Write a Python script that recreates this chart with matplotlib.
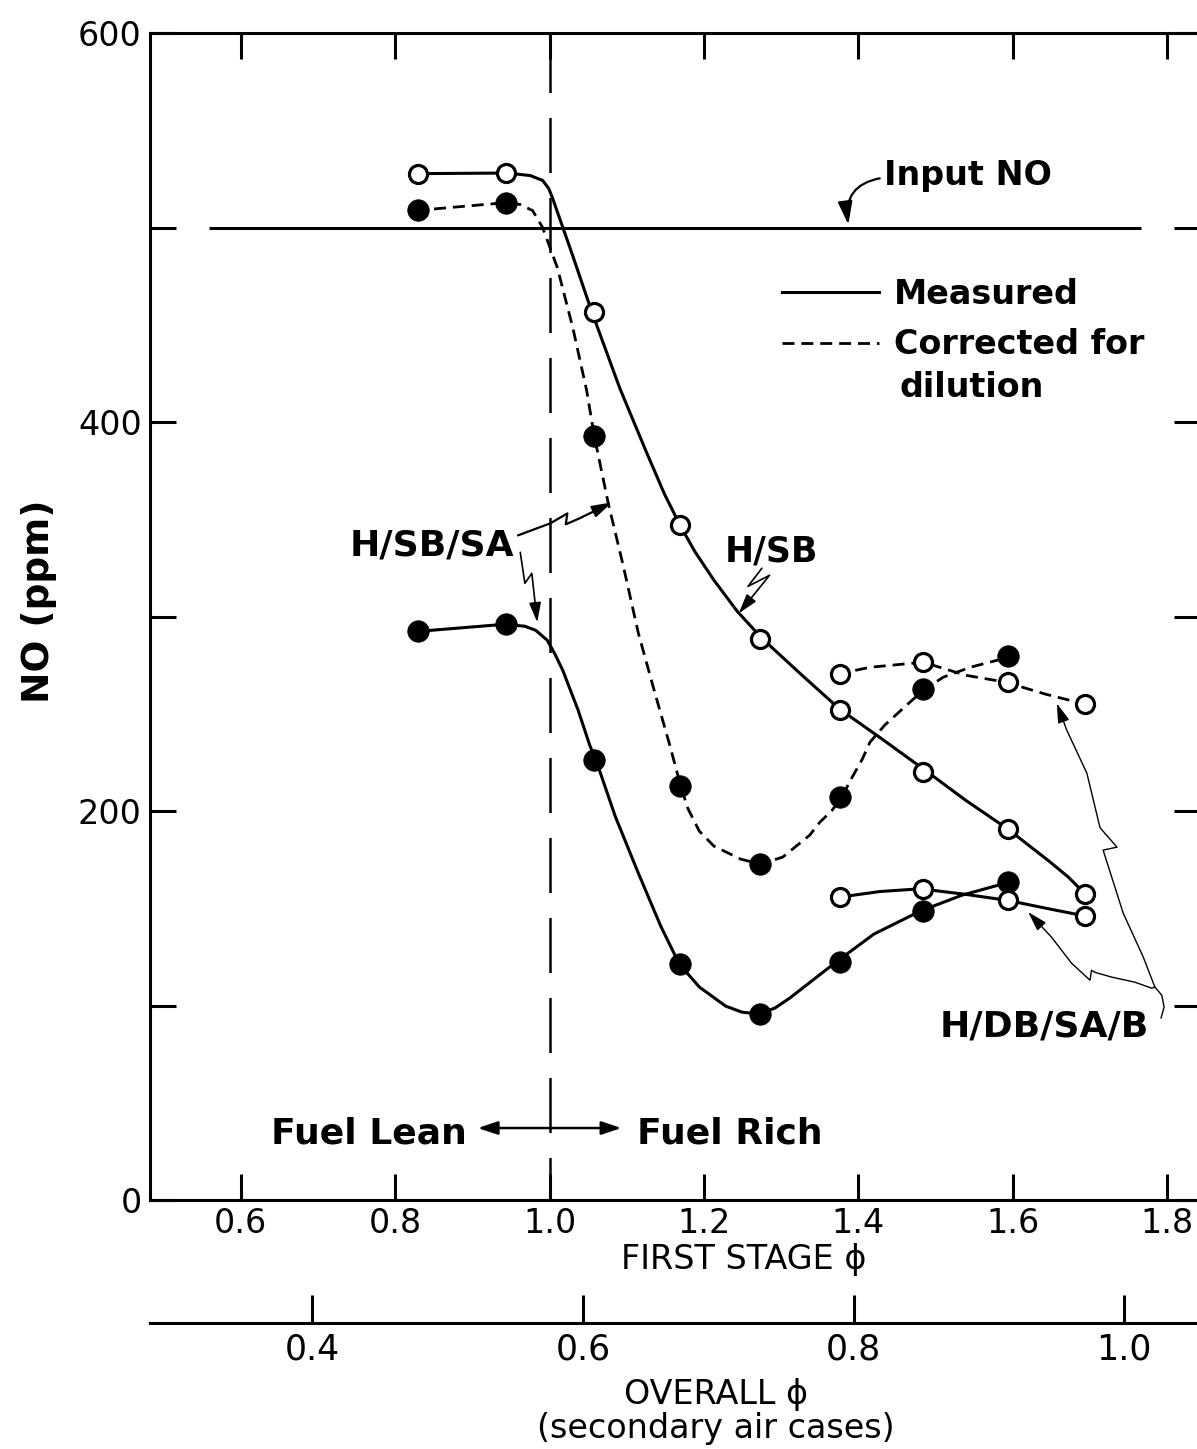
import matplotlib
matplotlib.use("Agg")
import matplotlib.pyplot as plt
from matplotlib.lines import Line2D
from matplotlib.patches import FancyArrowPatch
from matplotlib.path import Path

# ---------------- data ----------------
# first-stage equivalence ratio of the runs
phi_first = [0.830, 0.944, 1.057, 1.169, 1.273, 1.376, 1.484, 1.594, 1.694]

# H/SB (open circles), measured
no_hsb_measured = [527.7, 528.0, 456.3, 346.9, 288.6, 252.0, 220.2, 190.6, 157.4]
# H/SB/SA (filled circles), first 8 runs
no_hsbsa_measured = [292.4, 296.0, 226.0, 121.3, 95.6, 122.3, 148.8, 163.6]
no_hsbsa_corrected = [509.0, 512.8, 392.6, 212.7, 172.7, 207.0, 262.5, 279.5]
# H/DB/SA/B (open circles), last 4 runs
phi_hdbsab = [1.376, 1.484, 1.594, 1.694]
no_hdbsab_measured = [155.8, 160.0, 154.0, 146.0]
no_hdbsab_corrected = [270.3, 276.5, 266.2, 254.9]

# hand-drawn curves through the points
curve_hsb_meas_x = [0.831, 0.945, 0.975, 0.991, 0.999, 1.004, 1.029, 1.055, 1.091, 1.125,
                    1.149, 1.169, 1.188, 1.213, 1.243, 1.275, 1.327, 1.376, 1.431, 1.488,
                    1.539, 1.594, 1.647, 1.672, 1.694]
curve_hsb_meas_y = [527.7, 528.0, 526.7, 524.2, 520.0, 514.9, 486.6, 456.3, 417.3, 384.9,
                    362.8, 346.9, 333.5, 318.6, 302.7, 288.8, 269.8, 252.3, 236.9, 220.5,
                    205.5, 190.6, 174.2, 166.0, 157.2]

curve_hsbsa_meas_x = [0.831, 0.942, 0.968, 0.982, 0.997, 1.007, 1.017, 1.037, 1.052, 1.061,
                      1.085, 1.115, 1.144, 1.168, 1.194, 1.228, 1.249, 1.271, 1.292, 1.311,
                      1.371, 1.420, 1.480, 1.534, 1.567, 1.595]
curve_hsbsa_meas_y = [292.4, 296.0, 295.0, 292.9, 287.8, 280.6, 272.4, 251.8, 233.8, 225.1,
                      197.3, 168.0, 140.8, 121.3, 109.5, 99.7, 96.6, 95.6, 98.7, 103.8,
                      122.3, 136.7, 148.5, 156.7, 160.3, 163.4]

curve_hsbsa_corr_x = [0.826, 0.944, 0.962, 0.978, 0.991, 1.010, 1.030, 1.048, 1.058, 1.076,
                      1.095, 1.115, 1.134, 1.155, 1.170, 1.179, 1.194, 1.213, 1.248, 1.273,
                      1.302, 1.337, 1.350, 1.366, 1.379, 1.392, 1.405, 1.415, 1.434, 1.458,
                      1.484, 1.510, 1.545, 1.599]
curve_hsbsa_corr_y = [508.7, 512.8, 511.8, 508.7, 500.0, 479.4, 448.6, 416.2, 392.6, 358.2,
                      326.8, 291.4, 264.1, 234.8, 212.7, 201.4, 189.6, 181.9, 175.2, 172.7,
                      176.3, 187.6, 194.2, 200.4, 207.6, 217.4, 226.6, 235.4, 244.1, 252.8,
                      262.1, 268.8, 273.9, 279.5]

curve_hdbsab_corr_x = [1.372, 1.415, 1.484, 1.539, 1.591, 1.643, 1.694]
curve_hdbsab_corr_y = [270.3, 273.9, 276.5, 269.8, 266.2, 260.0, 254.9]

curve_hdbsab_meas_x = [1.377, 1.428, 1.480, 1.538, 1.594, 1.643, 1.694]
curve_hdbsab_meas_y = [155.8, 158.6, 160.0, 157.2, 154.0, 150.0, 146.0]

input_no_ppm = 500
input_no_span = [0.559, 1.766]
stoich_phi = 1.0

x_ticks_first = [0.6, 0.8, 1.0, 1.2, 1.4, 1.6, 1.8]
x_labels_first = ["0.6", "0.8", "1.0", "1.2", "1.4", "1.6", "1.8"]
x_ticks_overall = [0.4, 0.6, 0.8, 1.0]
x_labels_overall = ["0.4", "0.6", "0.8", "1.0"]
y_ticks = [0, 100, 200, 300, 400, 500, 600]
y_labels = ["0", "", "200", "", "400", "", "600"]

# ---------------- figure ----------------
W, H = 1197, 1449
fig = plt.figure(figsize=(W / 100, H / 100), dpi=100)
ax = fig.add_axes([150 / W, 249 / H, 1050 / W, 1167 / H])
ax.set_xlim(0.4824, 1.8425)
ax.set_ylim(0, 600)

LW = 2.2
DASH = (0, (4.3, 2.5))
K = "black"

# curves
ax.plot(curve_hsb_meas_x, curve_hsb_meas_y, color=K, lw=LW, zorder=3)
ax.plot(curve_hsbsa_meas_x, curve_hsbsa_meas_y, color=K, lw=LW, zorder=3)
ax.plot(curve_hsbsa_corr_x, curve_hsbsa_corr_y, color=K, lw=2.0, ls=DASH, zorder=3)
ax.plot(curve_hdbsab_corr_x, curve_hdbsab_corr_y, color=K, lw=2.0, ls=DASH, zorder=3)
ax.plot(curve_hdbsab_meas_x, curve_hdbsab_meas_y, color=K, lw=LW, zorder=3)

# markers
open_kw = dict(ls="none", marker="o", ms=13, mfc="white", mec=K, mew=2.3, zorder=5)
fill_kw = dict(ls="none", marker="o", ms=15.5, mfc=K, mec=K, mew=0.5, zorder=5)
ax.plot(phi_first, no_hsb_measured, **open_kw)
ax.plot(phi_first[:8], no_hsbsa_measured, **fill_kw)
ax.plot(phi_first[:8], no_hsbsa_corrected, **fill_kw)
ax.plot(phi_hdbsab, no_hdbsab_measured, **open_kw)
ax.plot(phi_hdbsab, no_hdbsab_corrected, **open_kw)

# reference lines
ax.hlines(input_no_ppm, input_no_span[0], input_no_span[1], color=K, lw=LW, zorder=2)
ax.axvline(stoich_phi, color=K, lw=1.8, ls=(5, (22, 10)), zorder=2)

# axes styling
for s in ax.spines.values():
    s.set_linewidth(LW)
ax.set_xticks(x_ticks_first)
ax.set_xticklabels(x_labels_first)
ax.set_yticks(y_ticks)
ax.set_yticklabels(y_labels)
ax.tick_params(axis="both", direction="in", length=19, width=LW, labelsize=24,
               top=True, right=True, pad=6)
ax.tick_params(axis="x", pad=5)
ax.set_xlabel("FIRST STAGE ϕ", fontsize=24)
ax.xaxis.set_label_coords(744 / W, (H - 1243) / H, transform=fig.transFigure)
ax.set_ylabel("NO (ppm)", fontsize=27, weight="bold")
ax.yaxis.set_label_coords(57 / W, (H - 601) / H, transform=fig.transFigure)

# second (overall phi) axis
ax2 = fig.add_axes([150 / W, (H - 1323) / H, 1050 / W, 0.0001])
ax2.set_xlim(0.280, 1.056)
ax2.set_ylim(0, 1)
ax2.patch.set_visible(False)
for side in ("top", "left", "right"):
    ax2.spines[side].set_visible(False)
ax2.spines["bottom"].set_linewidth(LW)
ax2.set_yticks([])
ax2.set_xticks(x_ticks_overall)
ax2.set_xticklabels(x_labels_overall)
ax2.tick_params(axis="x", direction="in", length=20, width=LW, labelsize=25, pad=7)
ax2.set_xlabel("OVERALL ϕ\n(secondary air cases)", fontsize=24, linespacing=1.02)
ax2.xaxis.set_label_coords(716 / W, (H - 1378) / H, transform=fig.transFigure)

# legend
handles = [Line2D([], [], color=K, lw=LW), Line2D([], [], color=K, lw=2.0, ls=DASH)]
ax.legend(handles, ["Measured", "Corrected for"], loc="upper left",
          bbox_to_anchor=(0.602, 0.790), frameon=False,
          prop={"size": 24, "weight": "bold"}, handlelength=2.9, handletextpad=0.45,
          labelspacing=0.52, borderpad=0, borderaxespad=0)
ax.text(1.453, 413.0, "dilution", fontsize=24, weight="bold", va="baseline", ha="left")

# Input NO
ax.annotate("Input NO", xy=(1.387, 501.5), xytext=(1.433, 521.6), ha="left", va="baseline",
            fontsize=24, weight="bold",
            arrowprops=dict(arrowstyle="-|>,head_length=0.7,head_width=0.22",
                            connectionstyle="arc3,rad=0.5", color=K, lw=1.6,
                            relpos=(0, 0.45), shrinkA=1, shrinkB=0, mutation_scale=20))

# Fuel lean / rich
ax.text(0.893, 29.3, "Fuel Lean", ha="right", va="baseline", fontsize=26, weight="bold")
ax.text(1.113, 29.3, "Fuel Rich", ha="left", va="baseline", fontsize=26, weight="bold")
ax.annotate("", xy=(1.093, 37.0), xytext=(0.907, 37.0),
            arrowprops=dict(arrowstyle="<|-|>,head_length=0.6,head_width=0.2", color=K,
                            lw=1.8, shrinkA=0, shrinkB=0, mutation_scale=20))


def squiggle(xs, ys, lw=1.2):
    arrow = FancyArrowPatch(path=Path(list(zip(xs, ys))),
                            arrowstyle="-|>,head_length=0.6,head_width=0.18",
                            mutation_scale=20, lw=lw, color=K, zorder=4)
    ax.add_patch(arrow)


# series labels
ax.text(0.847, 331.4, "H/SB/SA", ha="center", va="baseline", fontsize=26, weight="bold")
squiggle([0.959, 1.001, 1.023, 1.021, 1.039, 1.081], [341.7, 347.9, 353.0, 347.4, 350.5, 358.7], lw=1.6)
squiggle([0.962, 0.968, 0.977, 0.984], [333.0, 317.1, 322.2, 297.0], lw=1.2)

ax.text(1.287, 328.4, "H/SB", ha="center", va="baseline", fontsize=25, weight="bold")
squiggle([1.275, 1.257, 1.285, 1.245], [324.8, 315.5, 321.2, 301.6], lw=1.2)

ax.text(1.641, 84.3, "H/DB/SA/B", ha="center", va="baseline", fontsize=26, weight="bold")
squiggle([1.792, 1.796, 1.793, 1.784, 1.769, 1.743, 1.717, 1.735, 1.713, 1.696, 1.670, 1.657],
         [93.5, 99.2, 105.3, 109.5, 124.9, 147.5, 179.9, 181.4, 191.4, 219.4, 241.5, 255.4], lw=1.0)
squiggle([1.784, 1.780, 1.758, 1.728, 1.706, 1.702, 1.700, 1.676, 1.650, 1.620],
         [109.5, 108.9, 112.0, 114.6, 117.1, 118.1, 113.0, 121.8, 135.2, 148.0], lw=1.0)

fig.savefig("out.png", dpi=100)
